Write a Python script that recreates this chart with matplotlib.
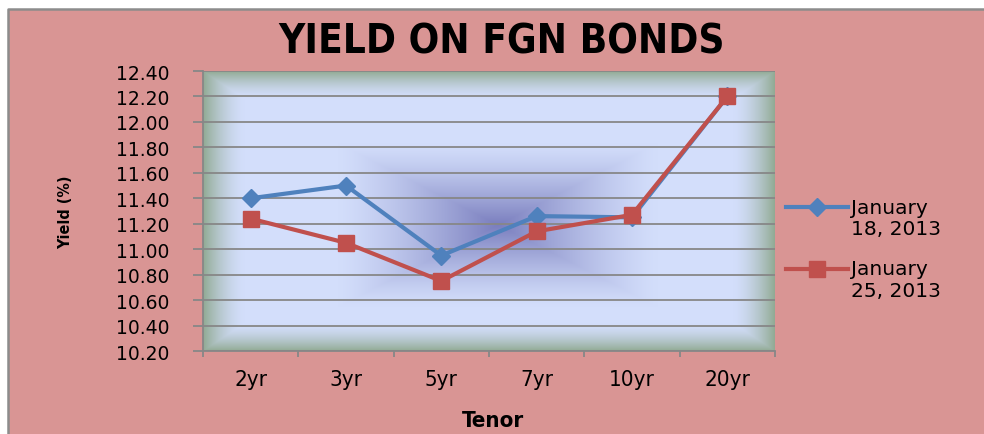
import matplotlib
matplotlib.use('Agg')
import matplotlib.pyplot as plt
import numpy as np
from matplotlib.patches import Rectangle
from matplotlib.lines import Line2D
from matplotlib.legend_handler import HandlerLine2D

tenors = ['2yr', '3yr', '5yr', '7yr', '10yr', '20yr']
jan18 = [11.40, 11.50, 10.95, 11.26, 11.25, 12.20]
jan25 = [11.24, 11.05, 10.75, 11.14, 11.27, 12.20]
labels = ['January\n18, 2013', 'January\n25, 2013']

pink = '#D99594'
blue = '#4F81BD'
red = '#C0504D'


class TopLine(HandlerLine2D):
    # put the legend key beside the first line of a two-line label
    def create_artists(self, legend, orig_handle, xdescent, ydescent, width, height, fontsize, trans):
        return super().create_artists(legend, orig_handle, xdescent, ydescent - 16,
                                      width, height, fontsize, trans)


fig = plt.figure(figsize=(9.84, 4.35), dpi=100)
fig.patch.set_facecolor('white')
x0, y0 = 7.5 / 984, 1 - 9.5 / 435
fig.patches.append(Rectangle((x0, 0), 1 - x0, y0, transform=fig.transFigure,
                             facecolor=pink, edgecolor='none', zorder=-10))
fig.lines.append(Line2D([x0, x0, 1], [0, y0, y0], transform=fig.transFigure,
                        color='#8C8C8C', lw=1.8, zorder=-9))

ax = fig.add_axes([203 / 984, 83 / 435, 572 / 984, 280 / 435])

# plot area fill: grey-green edges, pale blue body, dark blue centre
W, H = 572, 280
xx, yy = np.meshgrid(np.arange(W) + 0.5, np.arange(H) + 0.5)
dx = np.minimum(xx, W - xx)
dy = np.minimum(yy, H - yy)
edge = np.maximum(np.clip(1 - dx / 42, 0, 1), np.clip(1 - dy / 28, 0, 1)) ** 1.6
cx, cy = 295, 154
cen = np.clip(1 - np.maximum(np.abs(xx - cx) / 160, np.abs(yy - cy) / 82), 0, 1) ** 1.3
light = np.array([211, 222, 251]) / 255
green = np.array([145, 170, 147]) / 255
dark = np.array([122, 126, 190]) / 255
img = light[None, None, :] * np.ones((H, W, 1))
img = img * (1 - cen[..., None]) + dark * cen[..., None]
img = img * (1 - edge[..., None]) + green * edge[..., None]
ax.imshow(img, extent=[0, 1, 0, 1], transform=ax.transAxes, aspect='auto', zorder=0)

x = np.arange(len(tenors))
l1, = ax.plot(x, jan18, color=blue, lw=3, marker='D', ms=9, label=labels[0], zorder=3)
l2, = ax.plot(x, jan25, color=red, lw=3, marker='s', ms=11.5, label=labels[1], zorder=4)

ax.set_xlim(-0.5, len(tenors) - 0.5)
ax.set_ylim(10.2, 12.4)
yt = np.arange(10.2, 12.41, 0.2)
ax.set_yticks(yt)
ax.set_yticklabels(['%.2f' % v for v in yt], fontsize=13.5, family='DejaVu Sans')
ax.yaxis.grid(True, color='#878787', lw=1.3)
for gl in ax.get_ygridlines():
    gl.set_zorder(1)

ax.set_xticks(np.arange(-0.5, len(tenors), 1.0))
ax.set_xticklabels([])
ax.set_xticks(x, minor=True)
ax.set_xticklabels(tenors, minor=True, fontsize=16, family='DejaVu Sans', stretch='condensed')
ax.tick_params(axis='x', which='minor', length=0, pad=13)
ax.tick_params(axis='x', which='major', length=4, color='#878787', width=1.3)
ax.tick_params(axis='y', length=7, color='#878787', width=1.3, pad=17)

for s in ['top', 'right']:
    ax.spines[s].set_visible(False)
for s in ['left', 'bottom']:
    ax.spines[s].set_color('#878787')
    ax.spines[s].set_linewidth(1.3)

fig.text(502 / 984, 1 - 42 / 435, 'YIELD ON FGN BONDS', ha='center', va='center',
         fontsize=29, fontweight='bold', family='DejaVu Sans', stretch='condensed')
fig.text(493 / 984, 1 - 421 / 435, 'Tenor', ha='center', va='center',
         fontsize=16, fontweight='bold', family='DejaVu Sans', stretch='condensed')
fig.text(66 / 984, 1 - 212 / 435, 'Yield (%)', ha='center', va='center', rotation=90,
         fontsize=11.5, fontweight='bold', family='DejaVu Sans', stretch='condensed')

leg = ax.legend(loc='center left', bbox_to_anchor=(0.987, 0.365), frameon=False,
                labelspacing=1.05, handlelength=3.1, handletextpad=0.15,
                handler_map={l1: TopLine(), l2: TopLine()},
                prop={'family': 'DejaVu Sans', 'size': 14.5})
for t in leg.get_texts():
    t.set_linespacing(1.15)

fig.savefig('out.png', dpi=100, facecolor=fig.get_facecolor())
